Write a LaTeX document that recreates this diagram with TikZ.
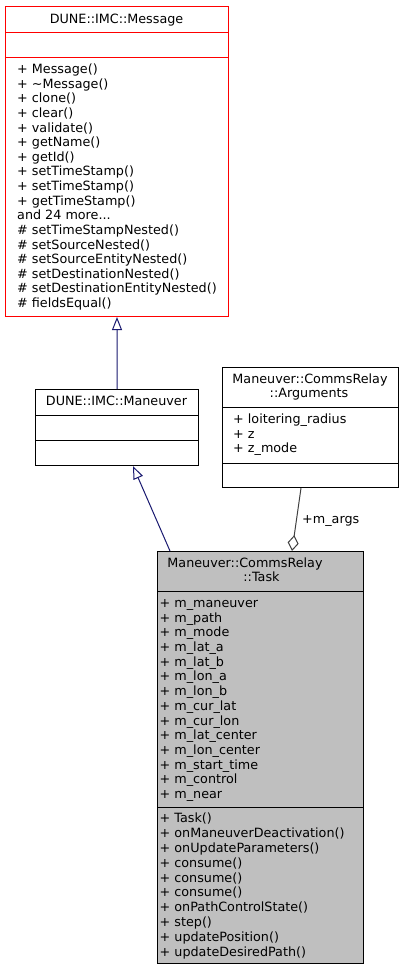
\documentclass[tikz,border=0pt]{standalone}
\usepackage{fontspec}
\setmainfont{DejaVu Sans}
\usetikzlibrary{arrows.meta}
\definecolor{edgeblue}{RGB}{25,25,112}
\definecolor{edgegray}{RGB}{64,64,64}
\definecolor{taskfill}{RGB}{191,191,191}
\definecolor{msgred}{RGB}{255,0,0}
\newcommand{\moretxt}{and 24 more...}
\begin{document}
\begin{tikzpicture}[x=1bp,y=-1bp,
  every node/.style={font=\fontsize{12.8}{14.7}\selectfont, inner sep=0pt, text=black},
  box/.style={draw, line width=1bp, anchor=north west, inner sep=0pt},
  txt/.style={anchor=base west},
  ttl/.style={anchor=base},
  inh/.style={draw=edgeblue, line width=1bp, -{Triangle[open,length=13bp,width=10bp]}},
  comp/.style={draw=edgegray, line width=1bp, -{Diamond[open,length=16bp,width=11bp]}}]
\fill[white] (0,0) rectangle (403,971);
\useasboundingbox (0,0) rectangle (403,971);

% DUNE::IMC::Message
\node[box, draw=msgred, minimum width=223bp, minimum height=310bp] (msg) at (5,6) {};
\draw[msgred, line width=1bp] (5,32) -- (228,32);
\draw[msgred, line width=1bp] (5,57) -- (228,57);
\node[ttl] (msgt) at (116.5,23.5) {DUNE::IMC::Message};
\foreach \t [count=\i from 0] in {{+ Message()}, {+ \textasciitilde Message()}, {+ clone()}, {+ clear()}, {+ validate()}, {+ getName()}, {+ getId()}, {+ setTimeStamp()}, {+ setTimeStamp()}, {+ getTimeStamp()}, {\moretxt}, {\# setTimeStampNested()}, {\# setSourceNested()}, {\# setSourceEntityNested()}, {\# setDestinationNested()}, {\# setDestinationEntityNested()}, {\# fieldsEqual()}}
  \node[txt] (msgm\i) at (17,73.5+14.63*\i) {\t};

% DUNE::IMC::Maneuver
\node[box, minimum width=163bp, minimum height=76bp] (man) at (35,389) {};
\draw[line width=1bp] (35,415) -- (198,415);
\draw[line width=1bp] (35,440) -- (198,440);
\node[ttl] (mant) at (116.5,405.5) {DUNE::IMC::Maneuver};

% Maneuver::CommsRelay::Arguments
\node[box, minimum width=176bp, minimum height=120bp] (args) at (222,367) {};
\draw[line width=1bp] (222,407) -- (398,407);
\draw[line width=1bp] (222,463) -- (398,463);
\node[ttl] (argt1) at (310,383.5) {Maneuver::CommsRelay};
\node[ttl] (argt2) at (309,397.5) {::Arguments};
\foreach \t [count=\i from 0] in {{+ loitering\_radius}, {+ z}, {+ z\_mode}}
  \node[txt] (arga\i) at (233,423.5+14.7*\i) {\t};

% Maneuver::CommsRelay::Task
\node[box, fill=taskfill, minimum width=206bp, minimum height=412bp] (task) at (157,551) {};
\draw[line width=1bp] (157,591) -- (363,591);
\draw[line width=1bp] (157,807) -- (363,807);
\node[ttl] (taskt1) at (245,567.5) {Maneuver::CommsRelay};
\node[ttl] (taskt2) at (261.5,581.5) {::Task};
\foreach \t [count=\i from 0] in {{+ m\_maneuver}, {+ m\_path}, {+ m\_mode}, {+ m\_lat\_a}, {+ m\_lat\_b}, {+ m\_lon\_a}, {+ m\_lon\_b}, {+ m\_cur\_lat}, {+ m\_cur\_lon}, {+ m\_lat\_center}, {+ m\_lon\_center}, {+ m\_start\_time}, {+ m\_control}, {+ m\_near}}
  \node[txt] (taska\i) at (159.5,607.5+14.69*\i) {\t};
\foreach \t [count=\i from 0] in {{+ Task()}, {+ onManeuverDeactivation()}, {+ onUpdateParameters()}, {+ consume()}, {+ consume()}, {+ consume()}, {+ onPathControlState()}, {+ step()}, {+ updatePosition()}, {+ updateDesiredPath()}}
  \node[txt] (taskm\i) at (159.5,822.5+14.89*\i) {\t};

% connectors
\draw[inh] (man.north) -- (msg.south);
\draw[inh] ([xshift=13bp]task.north west) -- ([xshift=98bp]man.south west);
\draw[comp] ([xshift=79bp]args.south west) -- ([xshift=135bp]task.north west);
\node[txt] (lbl) at (302,523.5) {+m\_args};
\end{tikzpicture}
\end{document}
